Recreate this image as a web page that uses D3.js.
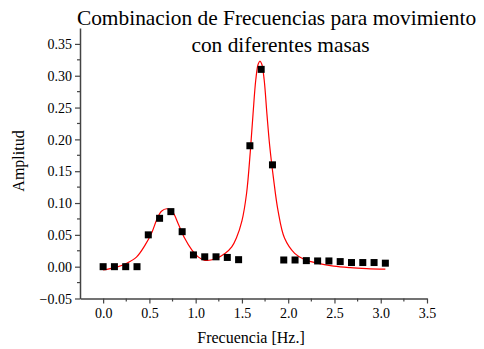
<!DOCTYPE html>
<html>
<head>
<meta charset="utf-8">
<script src="https://cdn.jsdelivr.net/npm/d3@7"></script>
<style>
  body { margin: 0; background: #fff; }
  svg { display: block; }
  text { font-family: "Liberation Serif", "Times New Roman", serif; fill: #000; }
</style>
</head>
<body>
<div id="chart"></div>
<script>
// Datos medidos (frecuencia, amplitud)
var frecuencias = [0.000, 0.122, 0.244, 0.366, 0.488, 0.610, 0.732, 0.854, 0.976, 1.098,
                   1.220, 1.342, 1.464, 1.586, 1.708, 1.830, 1.952, 2.074, 2.196, 2.318,
                   2.440, 2.562, 2.684, 2.806, 2.928, 3.050];
var amplitudes = [0.000, 0.000, 0.000, 0.000, 0.050, 0.076, 0.0865, 0.055, 0.0185, 0.0155,
                  0.0155, 0.0145, 0.011, 0.190, 0.310, 0.160, 0.0105, 0.0105, 0.0095, 0.009,
                  0.009, 0.008, 0.0065, 0.0065, 0.0065, 0.0055];

// Curva de ajuste
var ajusteX = [0.00, 0.13, 0.25, 0.36, 0.45, 0.53, 0.58, 0.63, 0.69, 0.75, 0.81, 0.88, 0.96,
               1.03, 1.10, 1.21, 1.32, 1.39, 1.44, 1.50, 1.55, 1.59, 1.62, 1.65, 1.675, 1.695,
               1.715, 1.74, 1.77, 1.80, 1.84, 1.89, 1.96, 2.07, 2.18, 2.30, 2.49, 2.67, 2.85, 3.05];
var ajusteY = [-0.005, -0.0015, 0.005, 0.015, 0.033, 0.055, 0.074, 0.087, 0.091, 0.086, 0.068,
               0.045, 0.026, 0.015, 0.010, 0.012, 0.021, 0.031, 0.045, 0.072, 0.115, 0.180,
               0.240, 0.294, 0.318, 0.323, 0.318, 0.294, 0.240, 0.190, 0.140, 0.088, 0.045,
               0.021, 0.011, 0.006, 0.001, -0.0015, -0.003, -0.004];

var xTicks = [0.0, 0.5, 1.0, 1.5, 2.0, 2.5, 3.0, 3.5];
var yTicks = [-0.05, 0.00, 0.05, 0.10, 0.15, 0.20, 0.25, 0.30, 0.35];
var titulo = ["Combinacion de Frecuencias para movimiento", "con diferentes masas"];

var width = 484, height = 349;
var serif = "'Liberation Serif', 'Times New Roman', serif";

var svg = d3.select("#chart").append("svg")
  .attr("width", width)
  .attr("height", height);

var x = d3.scaleLinear().domain([-0.25, 3.5]).range([80, 427]);
var y = d3.scaleLinear().domain([-0.05, 0.375]).range([298.5, 28]);

// Titulo
svg.append("text")
  .attr("x", 276.5).attr("y", 25)
  .attr("text-anchor", "middle")
  .attr("font-family", serif)
  .attr("font-size", 21.4)
  .text(titulo[0]);
svg.append("text")
  .attr("x", 280.5).attr("y", 51.5)
  .attr("text-anchor", "middle")
  .attr("font-family", serif)
  .attr("font-size", 21.4)
  .text(titulo[1]);

// Curva de ajuste
var curva = ajusteX.map(function(d, i) { return [d, ajusteY[i]]; });
svg.append("path")
  .datum(curva)
  .attr("fill", "none")
  .attr("stroke", "#ff0000")
  .attr("stroke-width", 1.2)
  .attr("d", d3.line()
    .x(function(d) { return x(d[0]); })
    .y(function(d) { return y(d[1]); })
    .curve(d3.curveCatmullRom));

// Puntos
var puntos = frecuencias.map(function(d, i) { return [d, amplitudes[i]]; });
svg.selectAll(".punto")
  .data(puntos)
  .enter().append("rect")
  .attr("class", "punto")
  .attr("x", function(d) { return x(d[0]) - 3.5; })
  .attr("y", function(d) { return y(d[1]) - 3.5; })
  .attr("width", 7)
  .attr("height", 7)
  .attr("fill", "#000");

// Ejes
var ejeX = d3.axisBottom(x).tickValues(xTicks).tickFormat(d3.format(".1f")).tickSize(5).tickSizeOuter(0);
var ejeY = d3.axisLeft(y).tickValues(yTicks).tickFormat(d3.format(".2f")).tickSize(5).tickSizeOuter(0);

var gx = svg.append("g").attr("transform", "translate(0,298.5)").call(ejeX);
var gy = svg.append("g").attr("transform", "translate(80,0)").call(ejeY);

// Marcas menores
gx.selectAll(".menor")
  .data([0.25, 0.75, 1.25, 1.75, 2.25, 2.75, 3.25])
  .enter().append("line")
  .attr("class", "menor")
  .attr("x1", function(d) { return x(d); })
  .attr("x2", function(d) { return x(d); })
  .attr("y1", 0).attr("y2", 3);
gy.selectAll(".menor")
  .data([-0.025, 0.025, 0.075, 0.125, 0.175, 0.225, 0.275, 0.325])
  .enter().append("line")
  .attr("class", "menor")
  .attr("y1", function(d) { return y(d); })
  .attr("y2", function(d) { return y(d); })
  .attr("x1", 0).attr("x2", -3);

[gx, gy].forEach(function(g) {
  g.attr("font-family", serif).attr("font-size", 14);
  g.select(".domain").attr("stroke", "#444").attr("stroke-width", 1.5);
  g.selectAll("line").attr("stroke", "#444").attr("stroke-width", 1.2);
  g.selectAll("text").attr("fill", "#000");
});
gx.selectAll(".tick text").attr("dy", null).attr("y", 19);
gy.selectAll(".tick text").attr("x", -8).attr("dy", "0.33em");

// Titulos de ejes
svg.append("text")
  .attr("x", 251).attr("y", 343)
  .attr("text-anchor", "middle")
  .attr("font-family", serif)
  .attr("font-size", 16)
  .text("Frecuencia [Hz.]");
svg.append("text")
  .attr("transform", "translate(24,161) rotate(-90)")
  .attr("text-anchor", "middle")
  .attr("font-family", serif)
  .attr("font-size", 16)
  .text("Amplitud");
</script>
</body>
</html>
